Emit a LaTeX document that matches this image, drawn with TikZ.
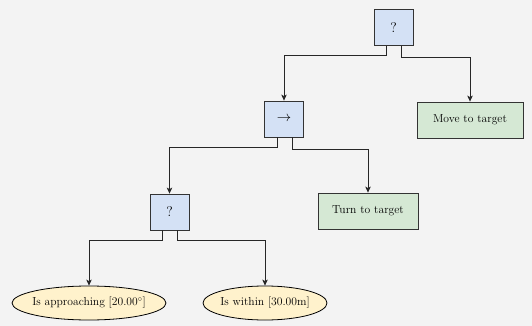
\documentclass[tikz,border=0pt]{standalone}
\usepackage{tikz}
\usetikzlibrary{arrows.meta, positioning, backgrounds, shapes.geometric}

\definecolor{canvas}{HTML}{F3F3F3}
\definecolor{ctrlblue}{HTML}{D4E1F5}
\definecolor{actgreen}{HTML}{D5E8D4}
\definecolor{condyellow}{HTML}{FFF2CC}
\definecolor{edgegray}{HTML}{333333}

\tikzset{
  ctrl/.style={draw=edgegray, fill=ctrlblue, line width=0.8pt, minimum width=39pt, minimum height=36pt, inner sep=0pt, font=\fontsize{14}{16}\selectfont},
  action/.style={draw=edgegray, fill=actgreen, line width=0.8pt, minimum height=36pt, inner sep=0pt},
  cond/.style={ellipse, draw=black, fill=condyellow, line width=0.8pt, minimum height=34pt, inner ysep=0pt, inner xsep=-6pt},
  link/.style={-{Stealth[length=6pt, width=5.5pt, inset=1.5pt]}, line width=0.8pt, draw=black!85},
}

\begin{document}
\begin{tikzpicture}[x=1pt, y=-1pt, font=\fontsize{11.6}{13}\selectfont, node distance=90pt, on grid]
  % root selector and its children
  \node[ctrl] (sel1) at (393.5,27.5) {?};
  \node[ctrl, below left=91.5pt and 109.5pt of sel1] (seq1) {$\rightarrow$};
  \node[action, minimum width=106pt, below right=92.5pt and 76.5pt of sel1] (move) {Move to target};

  \node[ctrl, below left=93pt and 114.5pt of seq1] (sel2) {?};
  \node[action, minimum width=100pt, below right=92pt and 84pt of seq1] (turn) {Turn to target};

  \node[cond, minimum width=154pt, below left=91pt and 80.5pt of sel2] (cond1) {Is approaching [20.00\ensuremath{^\circ}]};
  \node[cond, minimum width=124pt, below right=91pt and 95.5pt of sel2] (cond2) {Is within [30.00m]};

  \draw[link] ([xshift=-7pt]sel1.south) -- ++(0,10) -| (seq1.north);
  \draw[link] ([xshift=7.5pt]sel1.south) -- ++(0,12) -| (move.north);

  \draw[link] ([xshift=-7pt]seq1.south) -- ++(0,10) -| (sel2.north);
  \draw[link] ([xshift=8pt]seq1.south) -- ++(0,12) -| (turn.north);

  \draw[link] ([xshift=-7.5pt]sel2.south) -- ++(0,10) -| (cond1.north);
  \draw[link] ([xshift=7.5pt]sel2.south) -- ++(0,10) -| (cond2.north);

  \begin{scope}[on background layer]
    \fill[canvas] (0,0) rectangle (532,326);
  \end{scope}
\end{tikzpicture}
\end{document}
